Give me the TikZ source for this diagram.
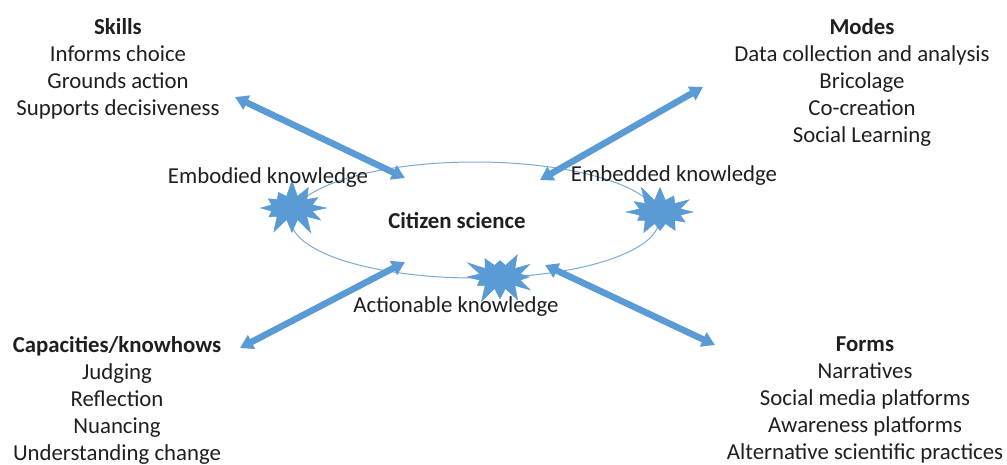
\documentclass[tikz,border=0pt]{standalone}
\usepackage{fontspec}
\setmainfont{Carlito}
\usetikzlibrary{arrows.meta,shapes.symbols}
\definecolor{flowblue}{RGB}{91,155,213}
\definecolor{ringblue}{RGB}{120,170,220}
\begin{document}
\begin{tikzpicture}[x=1pt,y=-1pt,
  txt/.style={font=\fontsize{22.8}{27}\selectfont, align=center, inner sep=0pt, text=black!88},
  lbl/.style={font=\fontsize{22.8}{27}\selectfont, inner sep=0pt, text=black!88},
  link/.style={draw=flowblue, line width=6.5pt, {Triangle[length=13pt,width=15pt]}-{Triangle[length=13pt,width=15pt]}},
  burst/.style={starburst, fill=flowblue, draw=flowblue, line width=0.5pt, minimum width=76pt, minimum height=58pt, starburst points=12, starburst point height=17pt, inner sep=0pt}
]
\useasboundingbox (0,0) rectangle (1007,464);

% central ring
\draw[ringblue, line width=1pt] (475,220) ellipse [x radius=184, y radius=58];
\node[lbl, font=\fontsize{22.8}{27}\selectfont\bfseries] (cs) at (457,221) {Citizen science};

% knowledge bursts
\node[burst, random starburst=7] (bl) at (292,208) {};
\node[burst, random starburst=11] (br) at (660,212) {};
\node[burst, random starburst=23] (bb) at (500,277) {};
\node[lbl] (emb) at (268,178) {Embodied knowledge};
\node[lbl] (emd) at (674,176) {Embedded knowledge};
\node[lbl] (act) at (456,307) {Actionable knowledge};

% corner blocks
\node[txt] (skills) at (118,69) {\textbf{Skills}\\Informs choice\\Grounds action\\Supports decisiveness};
\node[txt] (modes) at (862,82) {\textbf{Modes}\\Data collection and analysis\\Bricolage\\Co-creation\\Social Learning};
\node[txt] (caps) at (117,400) {\textbf{Capacities/knowhows}\\Judging\\Reflection\\Nuancing\\Understanding change};
\node[txt] (forms) at (865,400) {\textbf{Forms}\\Narratives\\Social media platforms\\Awareness platforms\\Alternative scientific practices};

% arrow ends
\coordinate (s1) at (235,97);  \coordinate (s2) at (405,178);
\coordinate (m1) at (703,87);  \coordinate (m2) at (540,180);
\coordinate (c1) at (240,348); \coordinate (c2) at (405,262);
\coordinate (f1) at (715,345); \coordinate (f2) at (545,265);

\draw[link] (s1) -- (s2);
\draw[link] (m1) -- (m2);
\draw[link] (c1) -- (c2);
\draw[link] (f1) -- (f2);
\end{tikzpicture}
\end{document}
